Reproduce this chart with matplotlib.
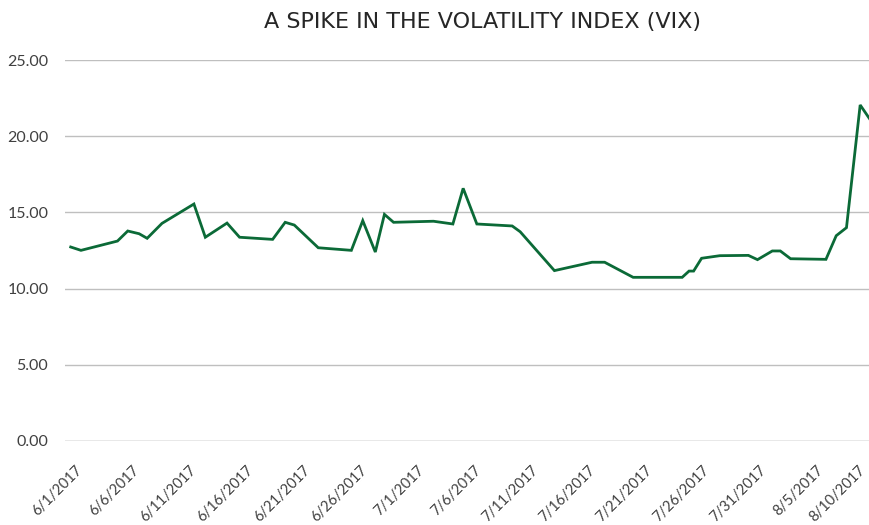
import matplotlib
matplotlib.use("Agg")
import matplotlib.pyplot as plt

# days after 6/1/2017 and index level
days = [0.0, 0.9, 4.1, 5.0, 6.0, 6.7, 8.0, 10.8, 11.8, 13.7, 14.8, 17.7, 18.8, 19.6,
        21.7, 24.6, 25.6, 26.7, 27.5, 28.3, 31.8, 33.5, 34.4, 35.6, 38.7, 39.4,
        42.4, 45.7, 46.8, 49.3, 53.6, 54.2, 54.6, 55.3, 56.9, 59.4, 60.2, 61.5,
        62.2, 63.1, 66.2, 67.1, 68.0, 69.2, 70.1]
vix = [12.73, 12.51, 13.12, 13.78, 13.60, 13.30, 14.28, 15.55, 13.37, 14.30, 13.37,
       13.23, 14.35, 14.17, 12.68, 12.51, 14.46, 12.40, 14.87, 14.35, 14.42, 14.24,
       16.58, 14.24, 14.11, 13.73, 11.18, 11.73, 11.73, 10.74, 10.74, 11.15, 11.15,
       11.99, 12.16, 12.18, 11.90, 12.47, 12.47, 11.96, 11.92, 13.47, 14.00, 22.05,
       21.06]

tick_days = list(range(0, 71, 5))
tick_labels = ["6/1/2017", "6/6/2017", "6/11/2017", "6/16/2017", "6/21/2017",
               "6/26/2017", "7/1/2017", "7/6/2017", "7/11/2017", "7/16/2017",
               "7/21/2017", "7/26/2017", "7/31/2017", "8/5/2017", "8/10/2017"]
y_ticks = [0, 5, 10, 15, 20, 25]

plt.rcParams["font.family"] = ["Lato", "DejaVu Sans"]

fig = plt.figure(figsize=(8.7, 5.25), dpi=100)
ax = fig.add_axes([65 / 870, 0.16, 810 / 870, 0.7257])

ax.plot(days, vix, color="#0b6a37", lw=2.0, solid_joinstyle="miter", clip_on=False, zorder=3)

ax.set_xlim(-0.5, 70.5)
ax.set_ylim(0, 25)
ax.set_yticks(y_ticks)
ax.set_yticklabels([f"{v:.2f}" for v in y_ticks], fontsize=11.5, color="#404040")
ax.set_xticks(tick_days)
ax.set_xticklabels([])
ax.tick_params(length=0)
ax.tick_params(axis="y", pad=12)

# rotated date labels, nudged so the right-most one stays on the canvas
for i, (d, lab) in enumerate(zip(tick_days, tick_labels)):
    dx = 3 if i < len(tick_days) - 1 else -8
    ax.annotate(lab, xy=(d, 0), xycoords=("data", "axes fraction"),
                xytext=(dx, -16), textcoords="offset points",
                rotation=45, ha="right", va="top", rotation_mode="anchor",
                fontsize=10.5, color="#404040", annotation_clip=False)

for v in y_ticks:
    ax.axhline(v, color="#8c8c8c" if v == 0 else "#bfbfbf", lw=1.0, zorder=1)
for s in ax.spines.values():
    s.set_visible(False)

fig.text(0.555, 0.958, "A SPIKE IN THE VOLATILITY INDEX (VIX)", ha="center", va="center",
         fontsize=16, color="#262626", family=["DejaVu Sans"])

fig.savefig("out.png", dpi=100)
